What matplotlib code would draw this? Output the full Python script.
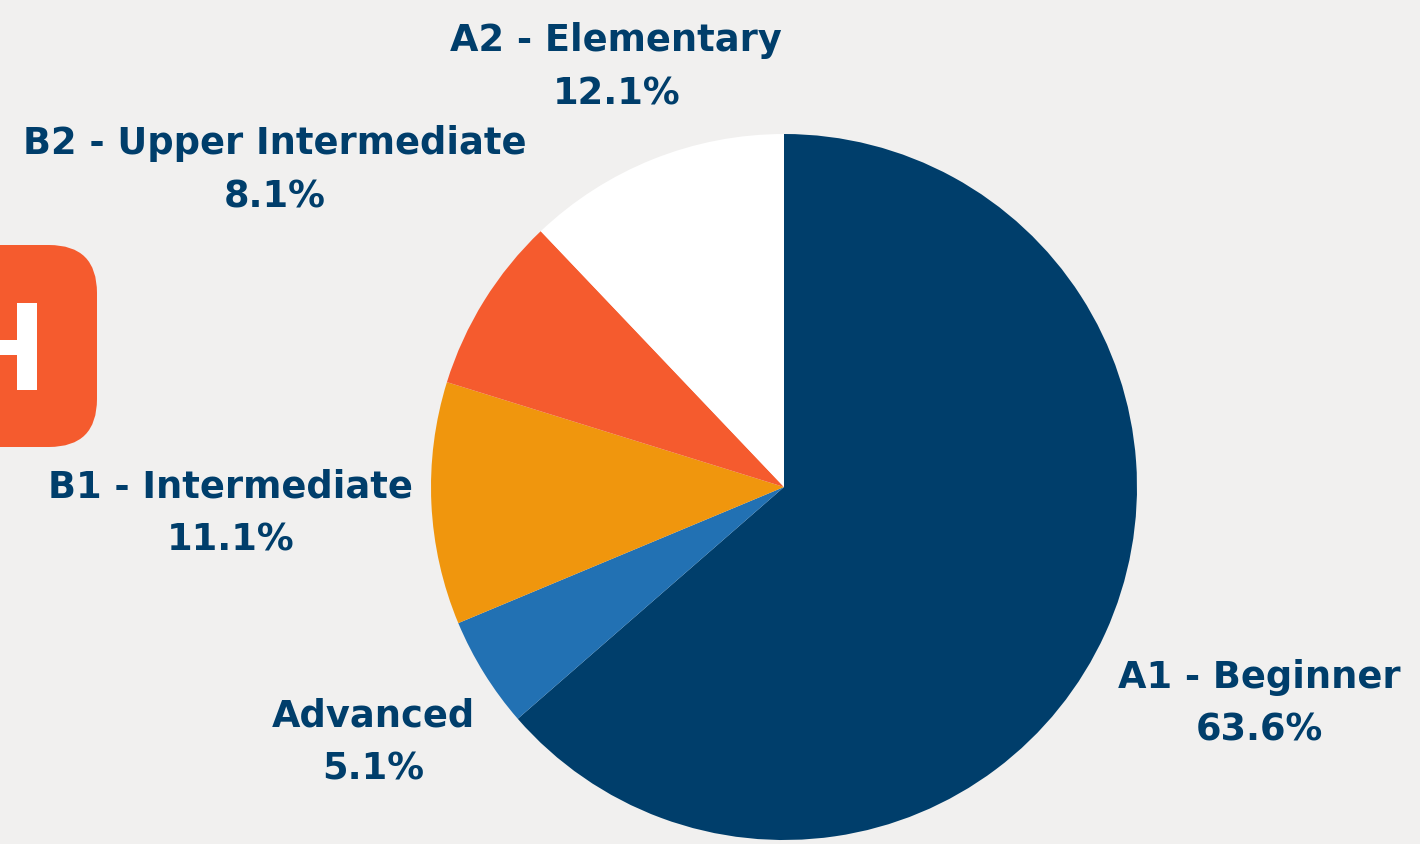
import numpy as np
import matplotlib
matplotlib.use('Agg')
import matplotlib.pyplot as plt
from matplotlib.patches import FancyBboxPatch, Rectangle

# data
levels = ['A1 - Beginner', 'Advanced', 'B1 - Intermediate',
          'B2 - Upper Intermediate', 'A2 - Elementary']
shares = [63.6, 5.1, 11.1, 8.1, 12.1]
colors = ['#003e6b', '#2271b3', '#f0960d', '#f55b2e', '#ffffff']
label_dist = [1.48, 1.37, 1.57, 1.70, 1.28]

W, H = 1420, 844
fig = plt.figure(figsize=(W / 100, H / 100), dpi=100)
fig.patch.set_facecolor('#f1f0ef')
ax = fig.add_axes([0, 0, 1, 1])

# orange badge at the left edge
ax.add_patch(FancyBboxPatch((-60, H - 447), 157, 202, boxstyle='round,pad=0,rounding_size=48',
                            fc='#f55b2e', ec='none'))
ax.add_patch(Rectangle((17, H - 390), 20, 87, fc='white', ec='none'))
ax.add_patch(Rectangle((0, H - 355), 17, 15, fc='white', ec='none'))

cx, cy, r = 784, H - 487, 353
wedges, _ = ax.pie(shares, colors=colors, startangle=90, counterclock=False,
                   center=(cx, cy), radius=r, frame=True,
                   wedgeprops=dict(linewidth=0))
ax.set_xlim(0, W)
ax.set_ylim(0, H)
ax.set_aspect('equal')
ax.axis('off')

for w, name, val, d in zip(wedges, levels, shares, label_dist):
    mid = np.deg2rad((w.theta1 + w.theta2) / 2)
    x = cx + d * r * np.cos(mid)
    y = cy + d * r * np.sin(mid)
    ax.text(x, y, f'{name}\n{val}%', ha='center', va='center',
            fontsize=26.5, fontweight='bold', color='#003e6b',
            family='DejaVu Sans', linespacing=1.55)

fig.savefig('out.png', dpi=100, facecolor=fig.get_facecolor())
